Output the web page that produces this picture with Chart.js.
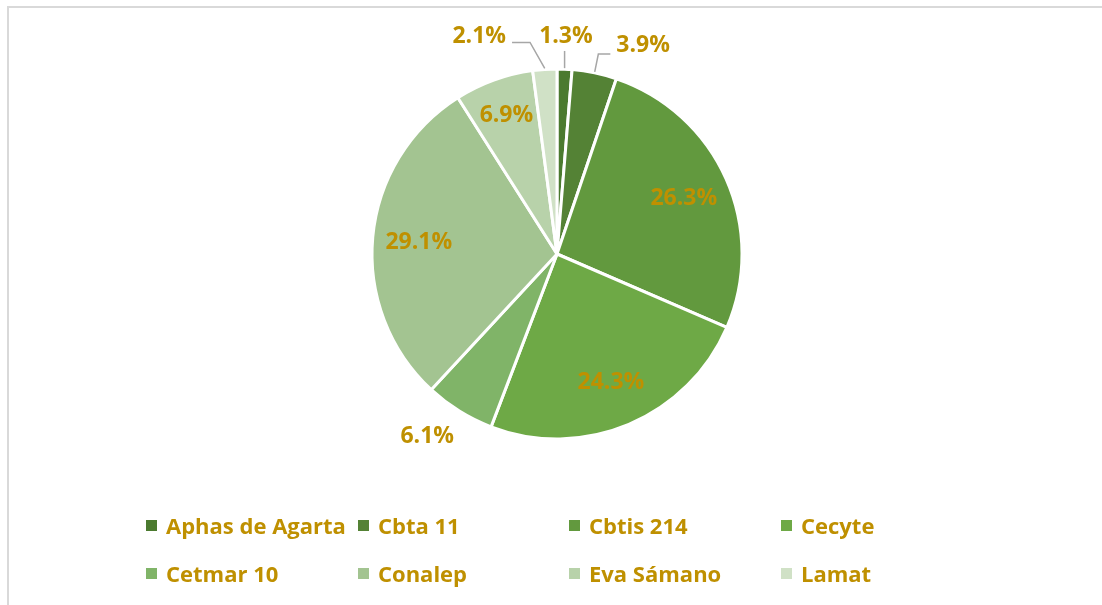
<!DOCTYPE html>
<html><head><meta charset="utf-8">
<script src="https://cdn.jsdelivr.net/npm/chart.js@4/dist/chart.umd.min.js"></script>
<style>
html,body{margin:0;padding:0;background:#fff;width:1102px;height:605px;overflow:hidden;}
#frame{position:absolute;left:7px;top:6px;width:1200px;height:700px;border-left:2px solid #D9D9D9;border-top:2px solid #D9D9D9;}
#c{position:absolute;left:0;top:0;}
.li{position:absolute;display:flex;align-items:center;height:30px;font:700 22px 'Open Sans';color:#BF9000;white-space:nowrap;}
.li .box{display:inline-block;width:11px;height:11px;margin-right:9px;flex:none;}
</style></head>
<body>
<div id="frame"></div>
<canvas id="c" width="1102" height="605"></canvas>
<div id="legend"></div>
<script>
// ---- data ----
const categories = ['Aphas de Agarta','Cbta 11','Cbtis 214','Cecyte','Cetmar 10','Conalep','Eva Sámano','Lamat'];
const shares = [1.3, 3.9, 26.3, 24.3, 6.1, 29.1, 6.9, 2.1];
const sliceColors = ['#4B7A2F','#548235','#62993E','#6EA946','#80B468','#A3C491','#B8D2AA','#D0E1C6'];

// ---- label placement (style, not data) ----
const labelLayout = [
  {r:1.185, dAngle:0,    leader:'vertical'},
  {r:1.227, dAngle:10.6, leader:'elbowRight'},
  {r:0.75,  dAngle:0},
  {r:0.75,  dAngle:0},
  {r:1.206, dAngle:3.7},
  {r:0.75,  dAngle:0},
  {r:0.80,  dAngle:0},
  {r:1.254, dAngle:-15.8, leader:'elbowLeft'}
];
const LABEL_FONT = '700 23px "Open Sans"';
const LABEL_COLOR = '#BF9000';

const labelPlugin = {
  id:'pieLabels',
  afterDatasetsDraw(chart){
    const ctx = chart.ctx;
    const meta = chart.getDatasetMeta(0);
    ctx.save();
    ctx.font = LABEL_FONT;
    ctx.textAlign = 'center';
    ctx.textBaseline = 'middle';
    meta.data.forEach((arc, i) => {
      const p = arc.getProps(['x','y','startAngle','endAngle','outerRadius'], true);
      const mid = (p.startAngle + p.endAngle) / 2;
      const L = labelLayout[i];
      const ang = mid + (L.dAngle || 0) * Math.PI / 180;
      const r = p.outerRadius * L.r;
      const lx = p.x + Math.cos(ang) * r;
      const ly = p.y + Math.sin(ang) * r + 1;
      const text = shares[i].toFixed(1) + '%';
      const w = ctx.measureText(text).width;
      if (L.leader) {
        const sx = p.x + Math.cos(mid) * (p.outerRadius + 1);
        const sy = p.y + Math.sin(mid) * (p.outerRadius + 1);
        ctx.strokeStyle = '#A6A6A6';
        ctx.lineWidth = 1.5;
        ctx.beginPath();
        ctx.moveTo(sx, sy);
        if (L.leader === 'vertical') {
          ctx.lineTo(sx, ly + 15);
        } else if (L.leader === 'elbowRight') {
          const ex = lx - w/2 - 6, ey = ly + 9;
          ctx.lineTo(ex - 12, ey);
          ctx.lineTo(ex, ey);
        } else if (L.leader === 'elbowLeft') {
          const ex = lx + w/2 + 6, ey = ly + 6;
          ctx.lineTo(ex + 18, ey);
          ctx.lineTo(ex, ey);
        }
        ctx.stroke();
      }
      ctx.fillStyle = LABEL_COLOR;
      ctx.fillText(text, lx, ly);
    });
    ctx.restore();
  }
};

new Chart(document.getElementById('c'), {
  type:'pie',
  data:{
    labels: categories,
    datasets:[{
      data: shares,
      backgroundColor: sliceColors,
      borderColor:'#FFFFFF',
      borderWidth:3
    }]
  },
  options:{
    responsive:false,
    animation:false,
    radius:185,
    layout:{padding:{left:372,right:360,top:69,bottom:166}},
    plugins:{legend:{display:false}, tooltip:{enabled:false}}
  },
  plugins:[labelPlugin]
});

// ---- legend (grid like the reference) ----
const legendEl = document.getElementById('legend');
const colX = [146, 358, 569, 781];
const rowY = [525, 573];
categories.forEach((name, i) => {
  const d = document.createElement('div');
  d.className = 'li';
  d.style.left = colX[i % 4] + 'px';
  d.style.top = (rowY[Math.floor(i / 4)] - 15) + 'px';
  const b = document.createElement('span');
  b.className = 'box';
  b.style.background = sliceColors[i];
  d.appendChild(b);
  d.appendChild(document.createTextNode(name));
  legendEl.appendChild(d);
});
</script>
</body></html>
